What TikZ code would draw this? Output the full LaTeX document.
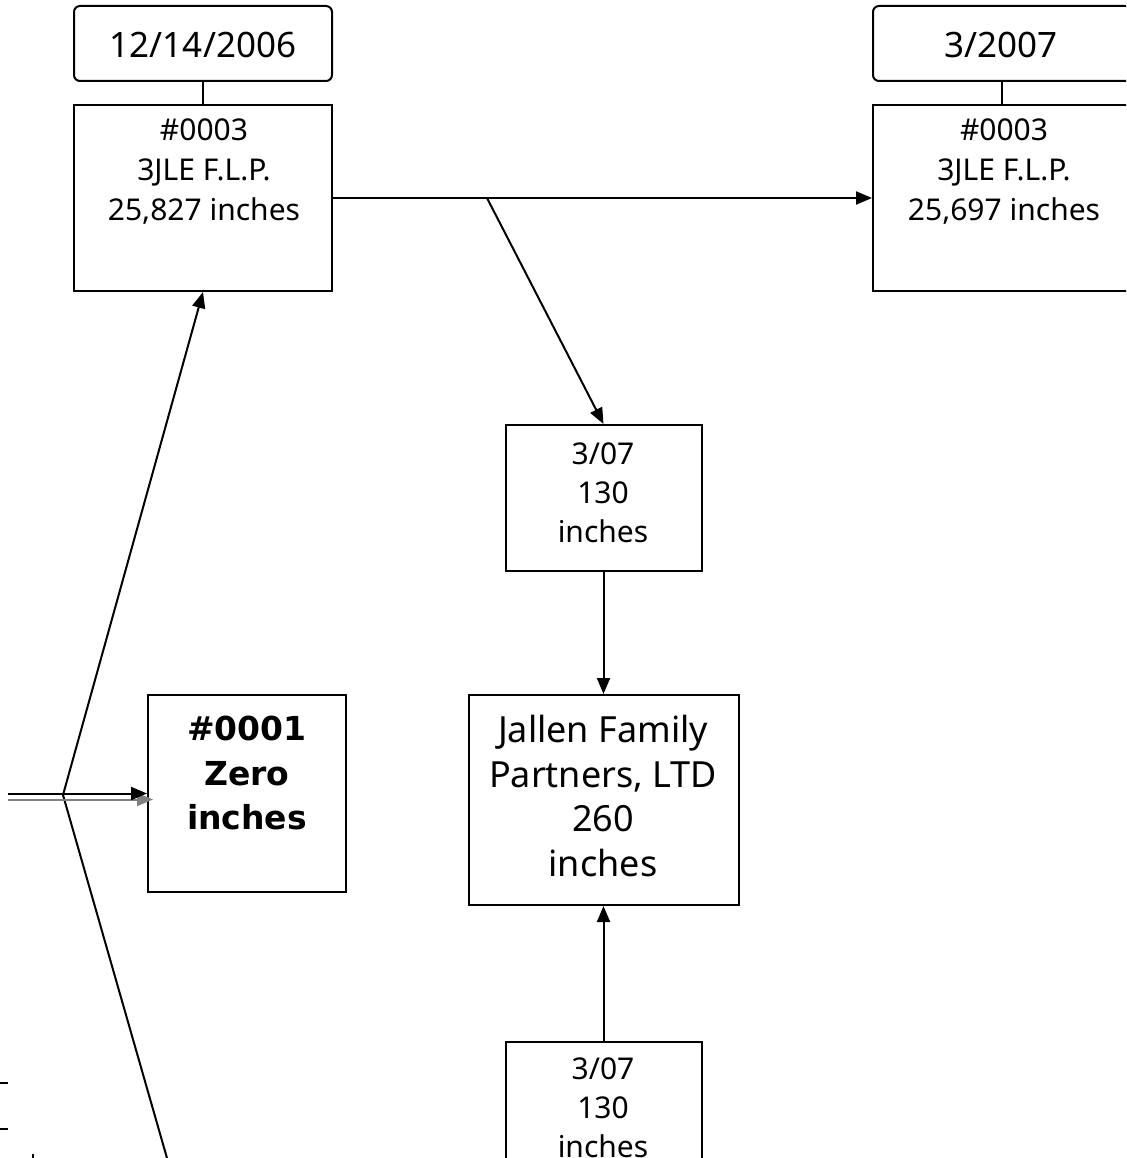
\documentclass[tikz,border=0pt]{standalone}
\usepackage{fontspec}
\setmainfont{Noto Sans}
\newfontfamily\heavyfont{DejaVu Sans}
\usetikzlibrary{arrows.meta}

\tikzset{
  box/.style={draw,line width=2pt,inner sep=0pt},
  datebox/.style={box,rounded corners=6pt,minimum width=258pt,minimum height=75pt},
  boxtext/.style={align=center,inner sep=0pt,font=\fontsize{30}{40}\selectfont},
  bigtext/.style={align=center,inner sep=0pt,font=\fontsize{36}{44.5}\selectfont},
}

\begin{document}
\begin{tikzpicture}[x=1pt,y=-1pt,line width=2pt,>={Triangle[length=16pt,width=13pt]}]
\clip (0,0) rectangle (1126,1158);

% dates on top
\node[datebox] (date1) at (203,43.5) {};
\node (date1txt) at (203,45) {\fontsize{35}{40}\selectfont 12/14/2006};
\node[datebox] (date2) at (1002,43.5) {};
\node (date2txt) at (1001,45) {\fontsize{35}{40}\selectfont 3/2007};

% the two 3JLE boxes
\node[box,minimum width=258pt,minimum height=186pt] (flp1) at (203,198) {};
\node[boxtext] (flp1txt) at (204,172) {\#0003\\3JLE F.L.P.\\25,827 inches};
\node[box,minimum width=258pt,minimum height=186pt] (flp2) at (1002,198) {};
\node[boxtext] (flp2txt) at (1004,172) {\#0003\\3JLE F.L.P.\\25,697 inches};

\draw (date1) -- (flp1);
\draw (date2) -- (flp2);

% transfers
\node[box,minimum width=196pt,minimum height=146pt] (gift1) at (603.5,498) {};
\node[boxtext,font=\fontsize{30}{39}\selectfont] (gift1txt) at (603,493) {3/07\\130\\inches};
\node[box,minimum width=270pt,minimum height=210pt] (jallen) at (603.5,800) {};
\node[bigtext] (jallentxt) at (603,796) {Jallen Family\\Partners, LTD\\260\\inches};
\node[box,minimum width=196pt,minimum height=146pt] (gift2) at (603.5,1115) {};
\node[boxtext,font=\fontsize{30}{39}\selectfont] (gift2txt) at (603,1108) {3/07\\130\\inches};

\node[box,minimum width=198pt,minimum height=197pt] (zero) at (247,793.5) {};
\node[bigtext,font=\heavyfont\bfseries\fontsize{33}{44.5}\selectfont] (zerotxt) at (247,773) {\#0001\\Zero\\inches};

\coordinate (split) at (487,198);
\coordinate (fork) at (63,795);
\coordinate (lowend) at (179,1200);
\coordinate (feed) at (8,793.5);
\coordinate (feedgray) at (8,799.5);

\draw[->] (flp1) -- (flp2);
\draw[->] (split) -- (gift1.north);
\draw[->] (gift1) -- (jallen);
\draw[->] (gift2) -- (jallen);

\draw[->] (fork) -- (flp1.south);
\draw (fork) -- (lowend);
\draw[->,gray] (feedgray) -- ([xshift=6pt,yshift=-6pt]zero.west);
\draw[->] (feed) -- (zero.west);

% bits at the lower left edge
\draw (0,1083) -- (8,1083);
\draw (0,1129) -- (8,1129);
\draw (33,1154) -- (33,1160);
\end{tikzpicture}
\end{document}
